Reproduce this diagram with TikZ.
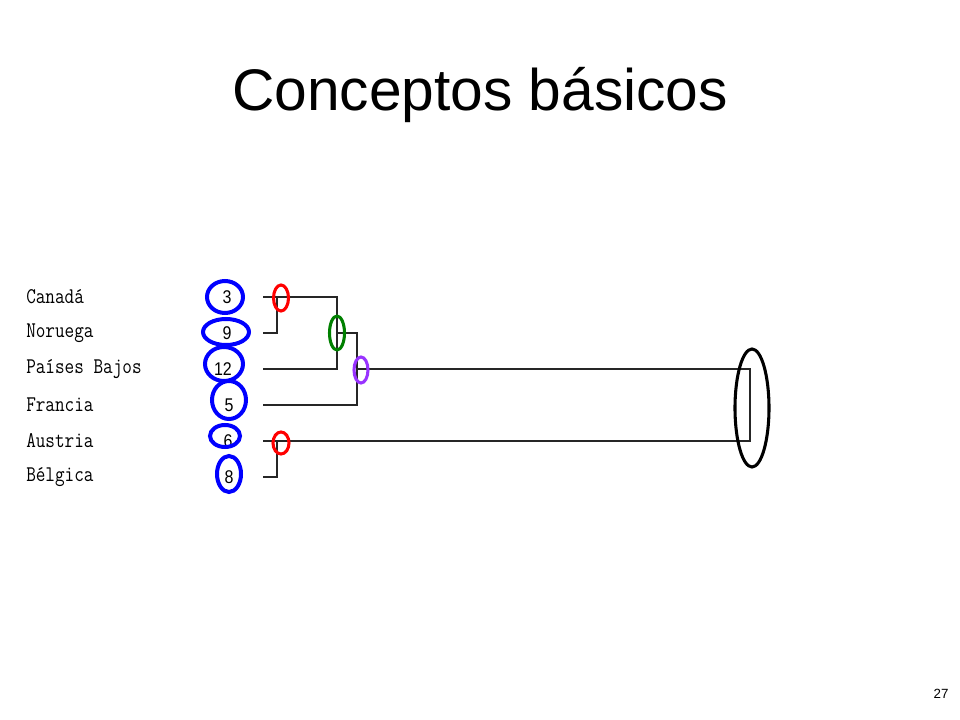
\documentclass[tikz,border=0pt]{standalone}
\usepackage{fontspec}
\setmainfont{Liberation Sans}
\definecolor{cblue}{RGB}{0,0,255}
\definecolor{cred}{RGB}{255,0,0}
\definecolor{cgreen}{RGB}{0,128,0}
\definecolor{cpurple}{RGB}{153,51,255}
\newcommand{\tallmono}[1]{\scalebox{1}[1.2]{#1}}
\newcommand{\tallnum}[1]{\scalebox{1}[1.15]{#1}}
\begin{document}
\begin{tikzpicture}[x=0.75pt,y=-0.75pt,
  lab/.style={anchor=west,inner sep=0pt,font=\ttfamily\fontsize{14}{16}\selectfont},
  num/.style={inner sep=0pt,font=\fontsize{12}{14}\selectfont},
  tree/.style={line width=1.2pt,black!85},
  ring/.style={line width=2.3pt},
  bring/.style={line width=3pt,cblue}]
\useasboundingbox (0,0) rectangle (960,720);
\node[font=\fontsize{44}{52}\selectfont,anchor=base,inner sep=0pt] (title) at (480,111) {Conceptos básicos};
\node[font=\fontsize{10}{12}\selectfont] (page) at (941,694) {27};
% labels
\node[lab] (l1) at (26,297) {\tallmono{Canadá}};
\node[lab] (l2) at (26,333) {\tallmono{Noruega}};
\node[lab] (l3) at (26,369) {\tallmono{Países Bajos}};
\node[lab] (l4) at (26,405) {\tallmono{Francia}};
\node[lab] (l5) at (26,441) {\tallmono{Austria}};
\node[lab] (l6) at (26,477) {\tallmono{Bélgica}};
% numbers
\node[num] (n1) at (227,297) {\tallnum{3}};
\node[num] (n2) at (227,333) {\tallnum{9}};
\node[num] (n3) at (223,369) {\tallnum{12}};
\node[num] (n4) at (229,405) {\tallnum{5}};
\node[num] (n5) at (228,441) {\tallnum{6}};
\node[num] (n6) at (229,477) {\tallnum{8}};
% tree coordinates
\coordinate (s1) at (263,297);
\coordinate (s2) at (263,333);
\coordinate (s3) at (263,369);
\coordinate (s4) at (263,405);
\coordinate (s5) at (263,441);
\coordinate (s6) at (263,477);
\coordinate (m12) at (277,297);
\coordinate (m56) at (277,441);
\coordinate (m123) at (337,297);
\coordinate (m1234) at (357,333);
\coordinate (mall) at (750,369);
\draw[tree] (s1) -- (m123) -- (m123 |- s3) -- (s3);
\draw[tree] (s2) -- (m12 |- s2) -- (m12);
\draw[tree] (m123 |- s2) -- (m1234) -- (m1234 |- s4) -- (s4);
\draw[tree] (m1234 |- s3) -- (mall) -- (mall |- s5) -- (s5);
\draw[tree] (s6) -- (m56 |- s6) -- (m56);
% blue rings
\draw[bring] (225,297) ellipse [x radius=18,y radius=16];
\draw[bring] (226,332) ellipse [x radius=23,y radius=13];
\draw[bring] (224,364) ellipse [x radius=19,y radius=17];
\draw[bring] (229,400) ellipse [x radius=17,y radius=19];
\draw[bring] (225,436) ellipse [x radius=15,y radius=11];
\draw[bring] (229,474) ellipse [x radius=12,y radius=18];
% merge rings
\draw[ring,cred] (281,298) ellipse [x radius=7.5,y radius=13];
\draw[ring,cgreen] (337,333) ellipse [x radius=7.5,y radius=17];
\draw[ring,cpurple] (361,370) ellipse [x radius=7,y radius=13];
\draw[ring,cred] (281,443) ellipse [x radius=8,y radius=11];
\draw[ring,black] (752,408) ellipse [x radius=17,y radius=59];
\end{tikzpicture}
\end{document}
